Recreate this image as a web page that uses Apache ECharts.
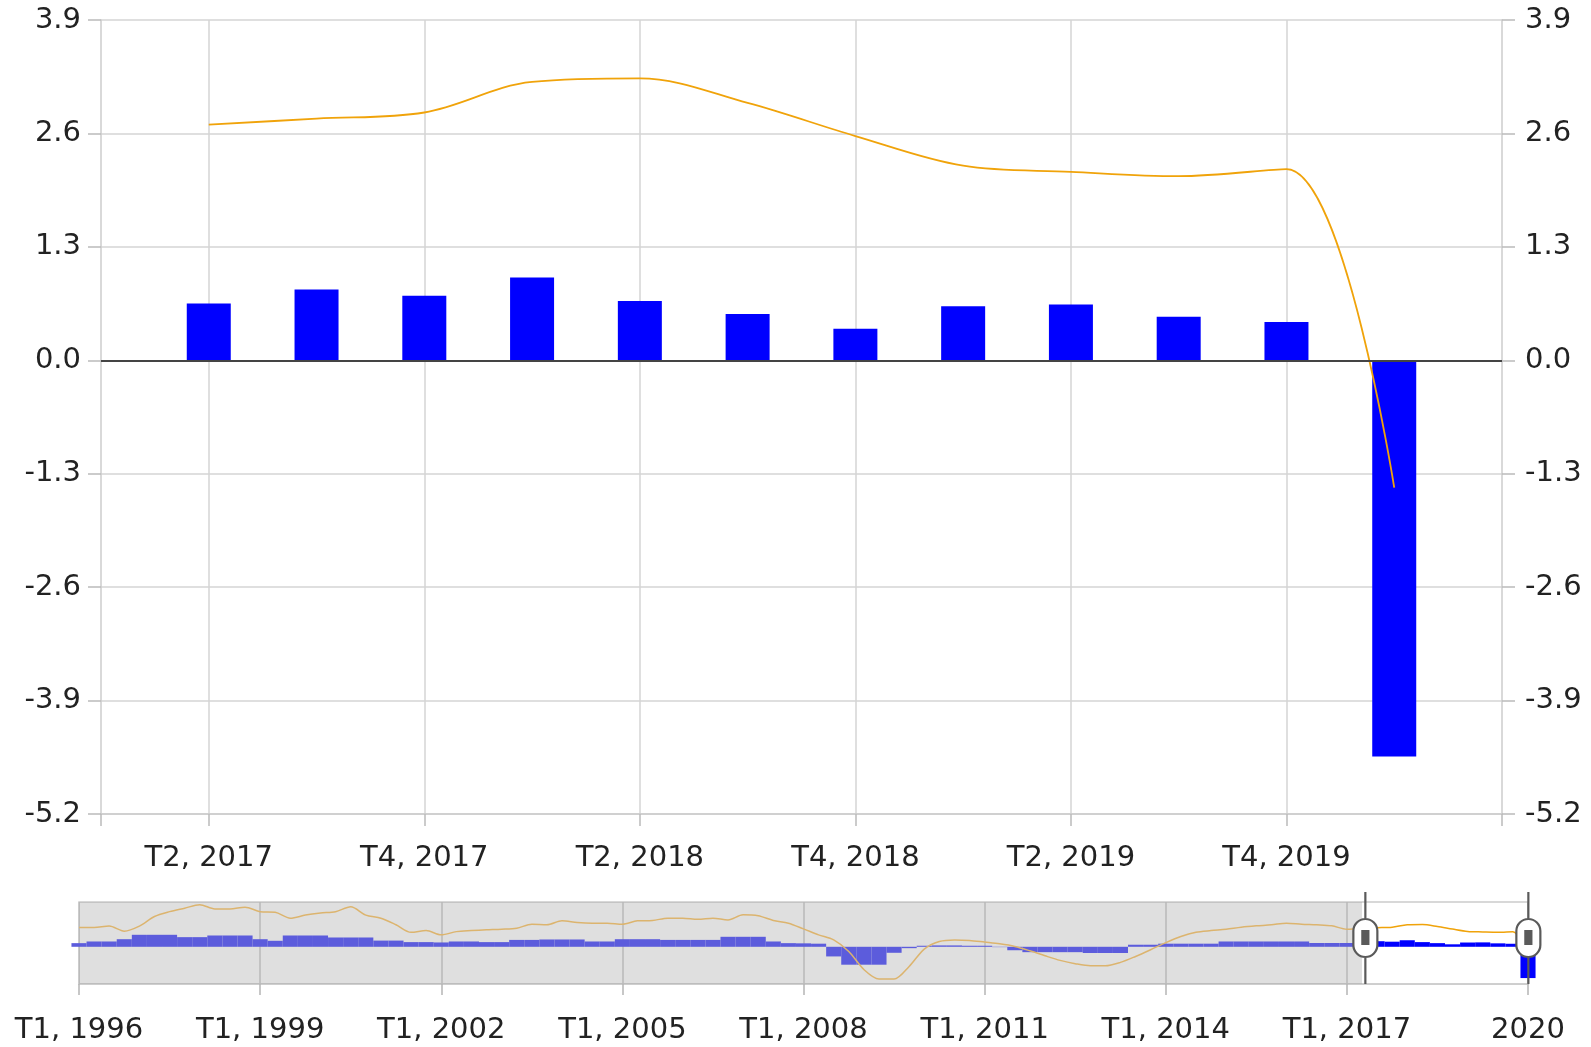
<!DOCTYPE html>
<html>
<head>
<meta charset="utf-8">
<style>
  html, body { margin: 0; padding: 0; background: #fff; }
  #chart { width: 1591px; height: 1047px; }
</style>
<script src="https://cdn.jsdelivr.net/npm/echarts@6/dist/echarts.min.js"></script>
</head>
<body>
<div id="chart"></div>
<script>
// Quarter labels T1, 1996 ... T2, 2020
const quarterLabels = [];
for (let y = 1996; y <= 2020; y++) {
  for (let q = 1; q <= 4; q++) {
    if (y === 2020 && q > 2) break;
    quarterLabels.push('T' + q + ', ' + y);
  }
}

// quarter-on-quarter growth, T1 1996 .. T1 2020 (read from the overview + main chart)
const quarterlyGrowth = [
  0.53, 0.77, 0.77, 1.10, 1.74, 1.74, 1.74, 1.40, 1.40, 1.64, 1.64, 1.64,
  1.10, 0.87, 1.64, 1.64, 1.64, 1.35, 1.35, 1.35, 0.90, 0.90, 0.68, 0.68,
  0.63, 0.77, 0.77, 0.68, 0.68, 1.00, 1.00, 1.06, 1.06, 1.06, 0.77, 0.77,
  1.10, 1.10, 1.10, 1.00, 1.00, 1.00, 1.00, 1.45, 1.45, 1.45, 0.77, 0.53,
  0.50, 0.45, -1.40, -2.60, -2.60, -2.60, -0.87, -0.20, 0.15, 0.20, 0.20, 0.15,
  0.15, -0.05, -0.50, -0.78, -0.78, -0.78, -0.78, -0.90, -0.90, -0.90, 0.30, 0.30,
  0.45, 0.45, 0.45, 0.45, 0.77, 0.77, 0.77, 0.77, 0.77, 0.77, 0.55, 0.55,
  0.55, 0.65, 0.81, 0.74, 0.95, 0.68, 0.53, 0.36, 0.62, 0.64, 0.50, 0.44,
  -4.54
];

// year-on-year growth, T1 1996 .. T1 2020
const annualGrowth = [
  2.80, 2.80, 3.00, 2.27, 3.00, 4.40, 5.10, 5.60, 6.10, 5.50, 5.50, 5.75,
  5.10, 5.00, 4.15, 4.60, 4.90, 5.10, 5.80, 4.60, 4.15, 3.20, 2.10, 2.35,
  1.73, 2.20, 2.35, 2.46, 2.55, 2.70, 3.28, 3.19, 3.77, 3.53, 3.43, 3.43,
  3.28, 3.77, 3.82, 4.15, 4.15, 4.00, 4.15, 3.90, 4.64, 4.50, 3.82, 3.43,
  2.60, 1.73, 1.00, -0.68, -3.30, -4.68, -4.68, -2.85, -0.33, 0.77, 1.00, 0.92,
  0.68, 0.43, 0.05, -0.58, -1.30, -1.97, -2.45, -2.75, -2.75, -2.26, -1.40, -0.43,
  0.60, 1.50, 2.10, 2.35, 2.55, 2.84, 3.04, 3.19, 3.43, 3.28, 3.19, 3.04,
  2.55, 2.70, 2.77, 2.84, 3.19, 3.23, 2.95, 2.57, 2.23, 2.16, 2.11, 2.19,
  -1.46
];

const yTicks = { min: -5.2, max: 3.9, interval: 1.3 };
const overviewQuarters = quarterLabels.slice(0, 97);
const windowStart = 85; // T2, 2017
const mainQuarters = quarterLabels.slice(84); // T1, 2017 .. T2, 2020

const mainBars = [null].concat(quarterlyGrowth.slice(windowStart), [null]);
const mainLine = [null].concat(annualGrowth.slice(windowStart), [null]);

const BLUE = '#0000ff';
const ORANGE = '#f0a30a';
const FONT = 'DejaVu Sans';

const chart = echarts.init(document.getElementById('chart'));

const yAxisCommon = {
  type: 'value',
  gridIndex: 0,
  min: yTicks.min,
  max: yTicks.max,
  interval: yTicks.interval,
  axisLine: { show: true, lineStyle: { color: '#cccccc', width: 1.5 } },
  axisTick: { show: true, length: 13, lineStyle: { color: '#bbbbbb', width: 1.5 } },
  axisLabel: {
    color: '#222', fontFamily: FONT, fontSize: 29,
    formatter: v => v.toFixed(1)
  }
};

// handle: vertical bar + capsule with a dark grip
let grip = '';
for (let gx = 9; gx <= 15; gx += 1.5) grip += ' M' + gx + ',39 L' + gx + ',54';
const handlePath = 'path://M12,0 L12,27 M12,65 L12,92 M0,39 A12,12 0 0 1 24,39 L24,53 A12,12 0 0 1 0,53 Z' + grip;

const option = {
  animation: false,
  grid: [
    { left: 101, right: 89, top: 20, bottom: 233 },
    { left: 79, right: 63, top: 902, bottom: 63, show: true,
      backgroundColor: '#ffffff', borderColor: '#cccccc', borderWidth: 1.5 }
  ],
  xAxis: [
    {
      type: 'category', gridIndex: 0, data: mainQuarters, boundaryGap: false,
      axisLine: { onZero: false, lineStyle: { color: '#cccccc', width: 1.5 } },
      axisTick: { interval: i => i % 2 === 1 || i === 0, length: 12,
        lineStyle: { color: '#bbbbbb', width: 1.5 } },
      splitLine: { show: true, interval: i => i % 2 === 1 && i < 13,
        lineStyle: { color: '#d5d5d5', width: 1.5 } },
      axisLabel: { interval: i => i % 2 === 1 && i < 13, margin: 30,
        color: '#222', fontFamily: FONT, fontSize: 29 }
    },
    {
      type: 'category', gridIndex: 1, data: overviewQuarters, boundaryGap: false,
      axisLine: { show: true, onZero: false, lineStyle: { color: '#cccccc', width: 1.5 } },
      axisTick: { show: true, interval: i => i % 12 === 0 || i === 96, length: 11,
        lineStyle: { color: '#b5b5b5', width: 1.5 } },
      splitLine: { show: true, interval: i => i % 12 === 0 || i === 96,
        lineStyle: { color: '#c8c8c8', width: 1.5 } },
      axisLabel: { interval: i => i % 12 === 0 || i === 96, margin: 32,
        color: '#222', fontFamily: FONT, fontSize: 29,
        formatter: (v, i) => i === 96 ? '2020' : v }
    }
  ],
  yAxis: [
    Object.assign({}, yAxisCommon, { position: 'left', axisLabel: Object.assign({}, yAxisCommon.axisLabel, { margin: 20 }),
      splitLine: { show: true, lineStyle: { color: '#d5d5d5', width: 1.5 } } }),
    Object.assign({}, yAxisCommon, { position: 'right', axisLabel: Object.assign({}, yAxisCommon.axisLabel, { margin: 23 }),
      splitLine: { show: false } }),
    { type: 'value', gridIndex: 1, min: -5.4, max: 6.5, show: false, splitLine: { show: false } }
  ],
  dataZoom: [
    {
      type: 'slider', xAxisIndex: 0, filterMode: 'none', start: 0, end: 100,
      left: 1363, right: 63, top: 892, height: 92,
      backgroundColor: 'rgba(0,0,0,0)', borderColor: 'rgba(0,0,0,0)',
      fillerColor: 'rgba(0,0,0,0)',
      showDataShadow: false, showDetail: false, brushSelect: false,
      moveHandleSize: 0, zoomLock: true,
      handleIcon: handlePath,
      handleSize: '100%',
      handleStyle: { color: '#ffffff', borderColor: '#5a5a5a', borderWidth: 2.2 }
    }
  ],
  series: [
    {
      name: 'Trimestral', type: 'bar', xAxisIndex: 0, yAxisIndex: 0,
      data: mainBars, barWidth: 44, itemStyle: { color: BLUE },
      markLine: {
        silent: true, symbol: 'none', label: { show: false },
        lineStyle: { color: '#444444', width: 2, type: 'solid' },
        data: [{ yAxis: 0 }]
      }
    },
    {
      name: 'Anual', type: 'line', xAxisIndex: 0, yAxisIndex: 0, z: 3,
      data: mainLine, smooth: 0.35, showSymbol: false, symbol: 'none',
      lineStyle: { color: ORANGE, width: 1.8 }
    },
    // overview: history part (greyed)
    {
      type: 'bar', xAxisIndex: 1, yAxisIndex: 2, barWidth: '100%',
      data: quarterlyGrowth.map((v, i) => i <= windowStart ? v : null),
      itemStyle: { color: '#5c5cdc' }
    },
    {
      type: 'line', xAxisIndex: 1, yAxisIndex: 2, smooth: 0.3, symbol: 'none',
      data: annualGrowth.map((v, i) => i <= windowStart ? v : null),
      lineStyle: { color: '#dcb46e', width: 1.5 },
      markArea: {
        silent: true,
        itemStyle: { color: 'rgba(150,150,150,0.3)' },
        data: [[{ xAxis: overviewQuarters[0] }, { xAxis: overviewQuarters[windowStart] }]]
      }
    },
    // overview: selected window
    {
      type: 'bar', xAxisIndex: 1, yAxisIndex: 2, barWidth: '100%', barGap: '-100%',
      data: quarterlyGrowth.map((v, i) => i > windowStart ? v : null),
      itemStyle: { color: BLUE }
    },
    {
      type: 'line', xAxisIndex: 1, yAxisIndex: 2, smooth: 0.3, symbol: 'none',
      data: annualGrowth.map((v, i) => i >= windowStart ? v : null),
      lineStyle: { color: ORANGE, width: 1.5 }
    }
  ]
};

chart.setOption(option);
</script>
</body>
</html>
